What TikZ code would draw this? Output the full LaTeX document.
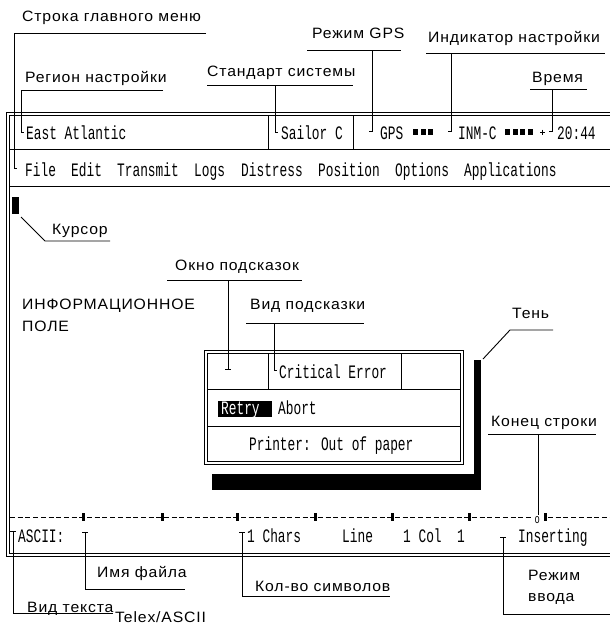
\documentclass[tikz,border=0pt]{standalone}
\usepackage{fontspec}
\setmainfont{Liberation Sans}
\newfontfamily\lblfont[FakeStretch=1.05,LetterSpace=5.7]{Liberation Sans}
\newfontfamily\scr[FakeStretch=0.675]{Liberation Mono}
\tikzset{
  lbl/.style={anchor=base west, inner sep=0pt, font=\lblfont\fontsize{15}{17}\selectfont},
  mono/.style={anchor=base west, inner sep=0pt, font=\scr\fontsize{19}{21}\selectfont},
  ln/.style={line width=0.9pt},
  lead/.style={line width=0.9pt},
}
\begin{document}
\begin{tikzpicture}[x=1pt,y=-1pt]
\useasboundingbox (0,0) rectangle (610,625);
\fill[white] (0,0) rectangle (610,625);

% ---------- screen frame ----------
\draw[ln] (610,112) -- (6,112) -- (6,556) -- (610,556);
\draw[ln] (610,115) -- (9,115) -- (9,553) -- (610,553);
\draw[ln] (9,149) -- (610,149);
\draw[ln] (268,115) -- (268,149);
\draw[ln] (353,115) -- (353,149);
\draw[ln] (9,186) -- (610,186);

% ---------- status row ----------
\node[mono] (ea) at (26,139) {East Atlantic};
\node[mono] (sailor) at (281,139) {Sailor C};
\node[mono] (gps) at (380,139) {GPS};
\foreach \x in {413,420.7,428.4} \fill (\x,129) rectangle ++(5,6);
\node[mono] (inm) at (458,139) {INM-C};
\foreach \x in {505,512.7,520.4,528.1} \fill (\x,129) rectangle ++(5,6);
\draw[line width=0.8pt] (540,132) -- (545,132) (542.5,129.5) -- (542.5,134.5);
\node[mono] (time) at (557,139) {20:44};

% ---------- menu row ----------
\node[mono] (m1) at (25,176) {File};
\node[mono] (m2) at (71,176) {Edit};
\node[mono] (m3) at (117,176) {Transmit};
\node[mono] (m4) at (194,176) {Logs};
\node[mono] (m5) at (241,176) {Distress};
\node[mono] (m6) at (318,176) {Position};
\node[mono] (m7) at (395,176) {Options};
\node[mono] (m8) at (464,176) {Applications};

% ---------- top labels ----------
\node[lbl] (lmenu) at (22,21) {Строка главного меню};
\coordinate (a1) at (14,33); \coordinate (a2) at (206,33); \coordinate (a3) at (14,168);
\draw[lead] (a2) -- (a1) -- (a3) -- ++(3,0);

\node[lbl] (lreg) at (25,82) {Регион настройки};
\coordinate (b1) at (21,90); \coordinate (b2) at (163,90); \coordinate (b3) at (21,132);
\draw[lead] (b2) -- (b1) -- (b3) -- ++(3,0);

\node[lbl] (lstd) at (207,76) {Стандарт системы};
\coordinate (c1) at (207,85); \coordinate (c2) at (353,85); \coordinate (c3) at (275,85); \coordinate (c4) at (275,132);
\draw[lead] (c1) -- (c2); \draw[lead] (c3) -- (c4) -- ++(3,0);

\node[lbl] (lgps) at (312,38) {Режим GPS};
\coordinate (d1) at (307,50); \coordinate (d2) at (401,50); \coordinate (d3) at (372,50); \coordinate (d4) at (372,131);
\draw[lead] (d1) -- (d2); \draw[lead] (d3) -- (d4) -- ++(-3,0);

\node[lbl] (lind) at (428,42) {Индикатор настройки};
\coordinate (e1) at (426,53); \coordinate (e2) at (605,53); \coordinate (e3) at (451,53); \coordinate (e4) at (451,131);
\draw[lead] (e1) -- (e2); \draw[lead] (e3) -- (e4) -- ++(-3,0);

\node[lbl] (ltime) at (532,82) {Время};
\coordinate (f1) at (530,89); \coordinate (f2) at (587,89); \coordinate (f3) at (552,89); \coordinate (f4) at (552,131);
\draw[lead] (f1) -- (f2); \draw[lead] (f3) -- (f4) -- ++(-3,0);

% ---------- cursor ----------
\fill (12,197) rectangle (19,214);
\node[lbl] (lcur) at (52,234) {Курсор};
\coordinate (g1) at (21,217); \coordinate (g2) at (45,241); \coordinate (g3) at (110,241);
\draw[lead] (g1) -- (g2) -- (g3);

% ---------- info field ----------
\node[lbl] (info1) at (22,309) {ИНФОРМАЦИОННОЕ};
\node[lbl] (info2) at (22,331) {ПОЛЕ};

% ---------- hint window ----------
\draw[ln] (204,350) rectangle (463,464);
\draw[ln] (207,353) rectangle (460,461);
\draw[ln] (207,389) -- (460,389);
\draw[ln] (268,353) -- (268,389);
\draw[ln] (401,353) -- (401,389);
\draw[ln] (207,426) -- (460,426);
\node[mono] (crit) at (279,378) {Critical Error};
\fill (218,401) rectangle (272,417);
\node[mono,text=white] (retry) at (221,414) {Retry};
\node[mono] (abort) at (278,414) {Abort};
\node[mono] (printer) at (249,450) {Printer: Out of paper};

% shadow
\fill (212,474) rectangle (481,490);
\fill (474,360) rectangle (481,490);

\node[lbl] (lwin) at (175,270) {Окно подсказок};
\coordinate (h1) at (167,280); \coordinate (h2) at (302,280); \coordinate (h3) at (228,280); \coordinate (h4) at (228,369);
\draw[lead] (h1) -- (h2); \draw[lead] (h3) -- (h4); \draw[lead] (225,369) -- (231,369);

\node[lbl] (lkind) at (250,309) {Вид подсказки};
\coordinate (i1) at (246,323); \coordinate (i2) at (364,323); \coordinate (i3) at (274,323); \coordinate (i4) at (274,370);
\draw[lead] (i1) -- (i2); \draw[lead] (i3) -- (i4) -- ++(3,0);

\node[lbl] (lshadow) at (512,318) {Тень};
\coordinate (j1) at (553,330); \coordinate (j2) at (510,330); \coordinate (j3) at (483,359);
\draw[lead] (j1) -- (j2) -- (j3);

\node[lbl] (leol) at (491,426) {Конец строки};
\coordinate (k1) at (488,434); \coordinate (k2) at (596,434); \coordinate (k3) at (538,434); \coordinate (k4) at (538,515);
\draw[lead] (k1) -- (k2); \draw[lead] (k3) -- (k4);

% ---------- ruler line ----------
\draw[line width=0.9pt, dash pattern=on 5pt off 2.7pt] (10,517) -- (532,517);
\draw[line width=0.9pt, dash pattern=on 5pt off 2.7pt] (548,517) -- (610,517);
\node[mono, font=\scr\fontsize{13}{15}\selectfont] (eol) at (534.5,523) {o};
\foreach \x in {83,162,237,315,392,469,545} \fill (\x-1.5,513) rectangle (\x+1.5,521);

% ---------- bottom status row ----------
\node[mono] (ascii) at (18,542) {ASCII:};
\node[mono] (chars) at (247,542) {1 Chars};
\node[mono] (line) at (342,542) {Line};
\node[mono] (col) at (403,542) {1 Col\ \ 1};
\node[mono] (ins) at (518,542) {Inserting};

% ---------- bottom labels ----------
\node[lbl] (ltext) at (27,612) {Вид текста};
\node[lbl] (ltelex) at (115,622) {Telex/ASCII};
\coordinate (n1) at (13,531); \coordinate (n2) at (13,613); \coordinate (n3) at (113,613);
\draw[lead] (10,531) -- (16,531); \draw[lead] (n1) -- (n2) -- (n3);

\node[lbl] (lfile) at (97,577) {Имя файла};
\coordinate (o1) at (85,532); \coordinate (o2) at (85,589); \coordinate (o3) at (185,589);
\draw[lead] (82,532) -- (88,532); \draw[lead] (o1) -- (o2) -- (o3);

\node[lbl] (lcnt) at (255,591) {Кол-во символов};
\coordinate (p1) at (242,532); \coordinate (p2) at (242,596); \coordinate (p3) at (390,596);
\draw[lead] (239,532) -- (245,532); \draw[lead] (p1) -- (p2) -- (p3);

\node[lbl] (lmode1) at (528,580) {Режим};
\node[lbl] (lmode2) at (528,601) {ввода};
\coordinate (q1) at (503,537); \coordinate (q2) at (503,614); \coordinate (q3) at (610,614);
\draw[lead] (500,537) -- (506,537); \draw[lead] (q1) -- (q2) -- (q3);
\end{tikzpicture}
\end{document}
